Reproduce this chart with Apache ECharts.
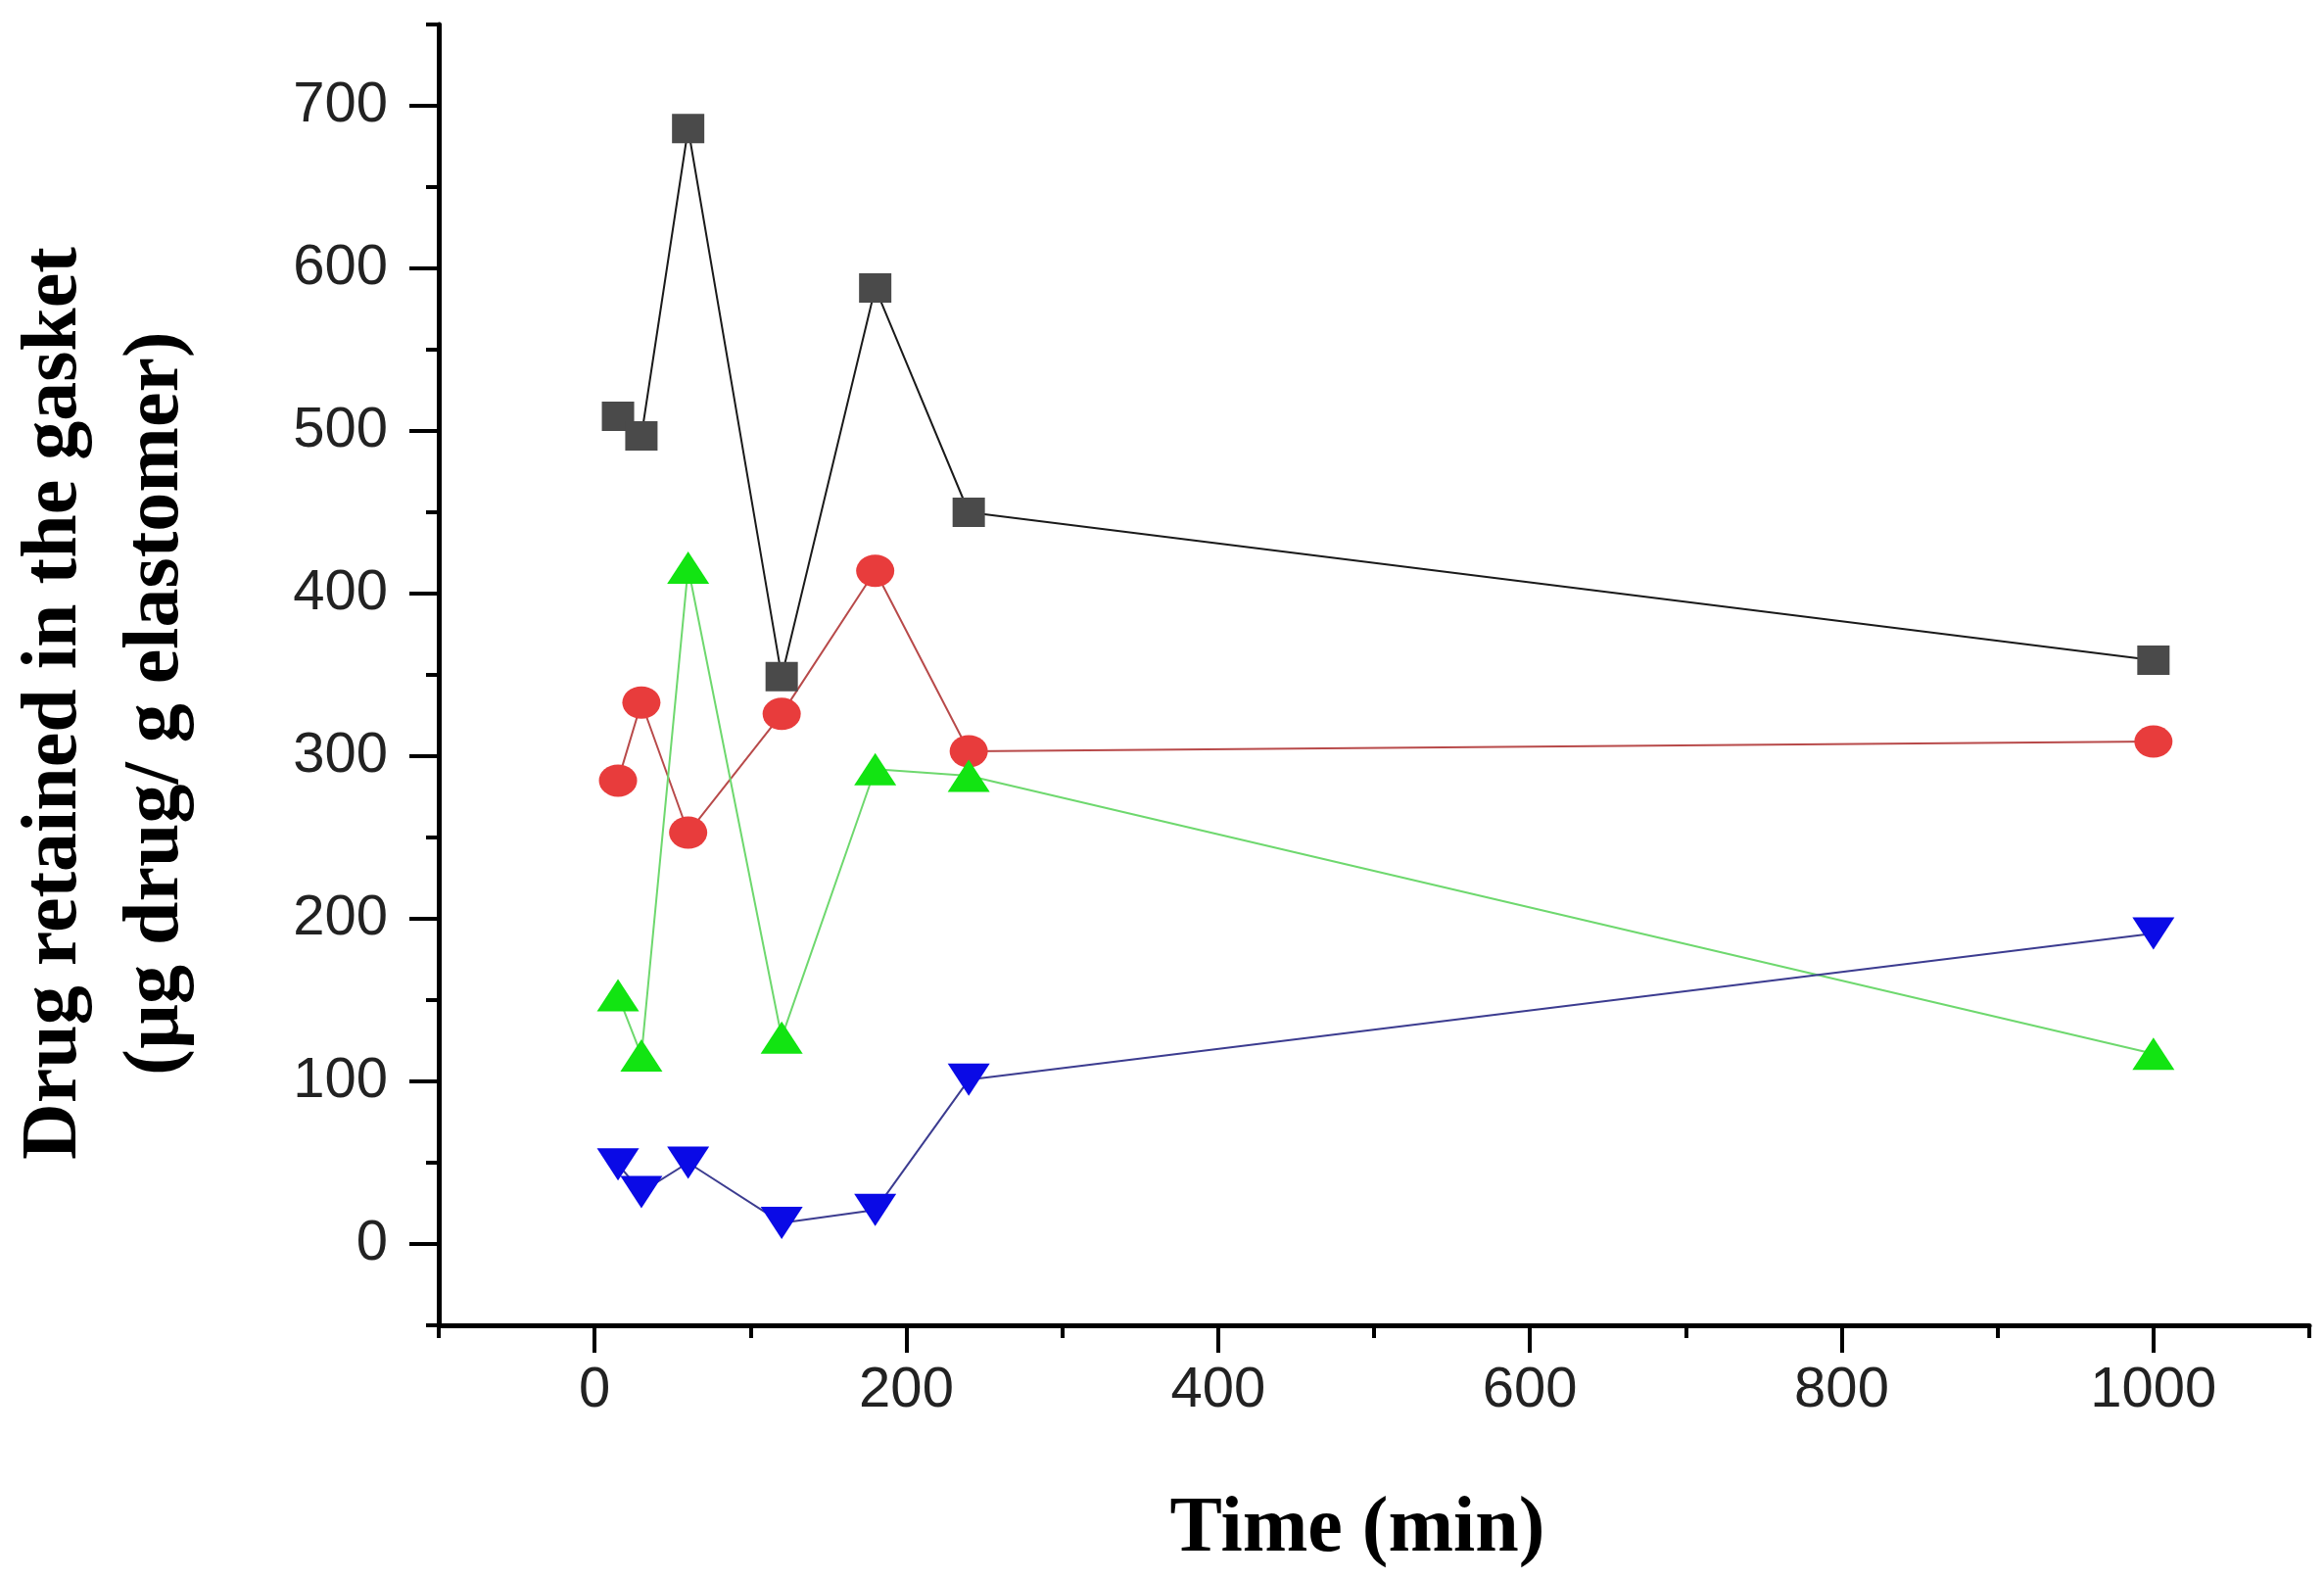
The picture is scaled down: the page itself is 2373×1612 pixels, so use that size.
<!DOCTYPE html>
<html>
<head>
<meta charset="utf-8">
<script src="https://cdn.jsdelivr.net/npm/echarts@6/dist/echarts.min.js"></script>
<style>
  html, body { margin: 0; padding: 0; background: #fff; }
  #chart { width: 2373px; height: 1612px; }
</style>
</head>
<body>
<div id="chart"></div>
<script>
// data
let timeMin = [15, 30, 60, 120, 180, 240, 1000]
let seriesBlack = [509, 497, 686, 349, 588, 450, 359]
let seriesRed = [285, 333, 253, 326, 414, 303, 309]
let seriesGreen = [153, 116, 416, 127, 292, 288, 117]
let seriesBlue = [49, 32, 50, 13, 21, 101, 191]

// tick labels
let xMajorTicks = [0, 200, 400, 600, 800, 1000]
let yMajorTicks = [0, 100, 200, 300, 400, 500, 600, 700]
let xRange = [-100, 1100]
let yRange = [-50, 750]

// page layout (px)
let W = 2373, H = 1612
let plot = {left: 448, right: 2358, top: 25, bottom: 1353}

function px(v){ return plot.left + (v - xRange[0]) / (xRange[1] - xRange[0]) * (plot.right - plot.left) }
function py(v){ return plot.bottom - (v - yRange[0]) / (yRange[1] - yRange[0]) * (plot.bottom - plot.top) }

let xMajor0 = xMajorTicks[0], xMajor1 = xMajorTicks[xMajorTicks.length - 1]
let yMajor0 = yMajorTicks[0], yMajor1 = yMajorTicks[yMajorTicks.length - 1]

// second grid only carries the long (major) ticks and the labels
let grid2 = {
  left: px(xMajor0),
  right: W - px(xMajor1),
  top: py(yMajor1),
  bottom: H - py(yMajor0)
}

let labelStyle = {fontFamily: 'Liberation Sans', fontSize: 58, color: '#222', formatter: (v) => String(v)}
let titleFont = {fontFamily: 'Liberation Serif', fontWeight: 'bold', fontSize: 80, fill: '#000'}

function pairs(vals){ return timeMin.map((t, i) => [t, vals[i]]) }

function lineSeries(vals, lineColor, fill, symbol, size, rotate){
  return {
    type: 'line',
    xAxisIndex: 0,
    yAxisIndex: 0,
    data: pairs(vals),
    symbol: symbol,
    symbolSize: size,
    symbolRotate: rotate || 0,
    showAllSymbol: true,
    lineStyle: {color: lineColor, width: 2},
    itemStyle: {color: fill, borderWidth: 0},
    animation: false,
    z: 3
  }
}

let option = {
  backgroundColor: '#fff',
  animation: false,
  grid: [
    {left: plot.left, right: W - plot.right, top: plot.top, bottom: H - plot.bottom},
    grid2
  ],
  xAxis: [
    {
      type: 'value', gridIndex: 0,
      min: xRange[0], max: xRange[1], interval: 100,
      axisLine: {show: true, onZero: false, lineStyle: {color: '#000', width: 5}},
      axisTick: {show: true, length: 13, lineStyle: {color: '#000', width: 4}},
      axisLabel: {show: false},
      splitLine: {show: false}
    },
    {
      type: 'value', gridIndex: 1,
      min: xMajor0, max: xMajor1, interval: xMajorTicks[1] - xMajorTicks[0],
      offset: plot.bottom - py(yMajor0),
      axisLine: {show: false, onZero: false},
      axisTick: {show: true, length: 28, lineStyle: {color: '#000', width: 4}},
      axisLabel: Object.assign({margin: 38}, labelStyle),
      splitLine: {show: false}
    }
  ],
  yAxis: [
    {
      type: 'value', gridIndex: 0,
      min: yRange[0], max: yRange[1], interval: 50,
      axisLine: {show: true, onZero: false, lineStyle: {color: '#000', width: 5}},
      axisTick: {show: true, length: 13, lineStyle: {color: '#000', width: 4}},
      axisLabel: {show: false},
      splitLine: {show: false}
    },
    {
      type: 'value', gridIndex: 1,
      min: yMajor0, max: yMajor1, interval: yMajorTicks[1] - yMajorTicks[0],
      offset: px(xMajor0) - plot.left,
      axisLine: {show: false, onZero: false},
      axisTick: {show: true, length: 30, lineStyle: {color: '#000', width: 4}},
      axisLabel: Object.assign({margin: 52}, labelStyle),
      splitLine: {show: false}
    }
  ],
  graphic: [
    {
      type: 'text', x: 1386, y: 1562, z: 10,
      style: Object.assign({text: 'Time (min)', align: 'center', verticalAlign: 'middle'}, titleFont)
    },
    {
      type: 'text', x: 56, y: 718, rotation: Math.PI / 2, z: 10,
      style: Object.assign({text: 'Drug retained in the gasket', align: 'center', verticalAlign: 'middle'}, titleFont)
    },
    {
      type: 'text', x: 160, y: 718, rotation: Math.PI / 2, z: 10,
      style: Object.assign({text: '(µg drug/ g elastomer)', align: 'center', verticalAlign: 'middle'}, titleFont)
    }
  ],
  series: [
    lineSeries(seriesBlack, '#1a1a1a', '#4a4a4a', 'rect', [33, 30]),
    lineSeries(seriesRed, '#b84a4a', '#e83c3c', 'circle', [39, 33]),
    lineSeries(seriesGreen, '#6ed86e', '#12e412', 'triangle', [43, 33]),
    lineSeries(seriesBlue, '#3c3c90', '#0a0ae6', 'triangle', [43, 33], 180)
  ]
}

let myChart = echarts.init(document.getElementById('chart'))
myChart.setOption(option)
</script>
</body>
</html>
